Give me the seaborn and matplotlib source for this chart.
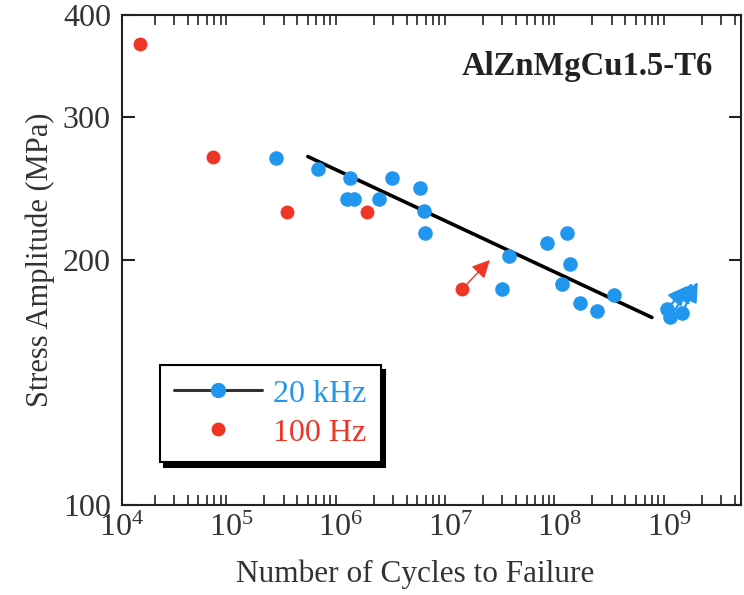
import numpy as np
import pandas as pd
import seaborn as sns
import matplotlib
matplotlib.use("Agg")
import matplotlib.pyplot as plt
from matplotlib.lines import Line2D
from matplotlib.ticker import FixedLocator, NullLocator, LogLocator, LogFormatterMathtext, FixedFormatter

# 20 kHz ultrasonic fatigue tests
blue_cycles = [2.56e5, 6.2e5, 1.21e6, 1.14e6, 1.32e6, 2.23e6, 2.94e6, 5.3e6, 5.75e6, 5.9e6,
               3.44e7, 2.98e7, 7.7e7, 1.17e8, 1.24e8, 1.05e8, 1.54e8, 2.2e8, 3.14e8,
               9.6e8, 1.02e9, 1.31e9]
blue_stress = [267, 259, 252, 238, 238, 238, 252, 245, 230, 216,
               202, 184, 210, 216, 198, 187, 177, 173, 181,
               174, 170, 172]

# 100 Hz conventional fatigue tests
red_cycles = [1.46e4, 6.8e4, 3.2e5, 1.74e6, 1.28e7]
red_stress = [368, 268, 229, 229, 184]

# Basquin fit through the 20 kHz data
fit_cycles = [5.0e5, 7.0e8]
fit_stress = [268, 170]

# Run-out specimens (start -> arrow head)
runout_red = [((1.28e7, 184), (2.31e7, 200))]
runout_blue = [((9.6e8, 174), (1.49e9, 186)),
               ((1.02e9, 170), (1.66e9, 187.5)),
               ((1.31e9, 172), (1.84e9, 188))]

BLUE = "#2196EE"
RED = "#EE3526"
TXT = "#333333"

sns.set_theme(style="white")
plt.rcParams["font.family"] = ["Liberation Serif", "DejaVu Serif"]
plt.rcParams["mathtext.fontset"] = "stix"

fig = plt.figure(figsize=(7.44, 5.95), dpi=100)
ax = fig.add_axes([122 / 744, 1 - 505 / 595, 619 / 744, 490 / 595])

blue_df = pd.DataFrame({"cycles": blue_cycles, "stress": blue_stress})
red_df = pd.DataFrame({"cycles": red_cycles, "stress": red_stress})
fit_df = pd.DataFrame({"cycles": fit_cycles, "stress": fit_stress})

sns.lineplot(data=fit_df, x="cycles", y="stress", color="black", linewidth=2.6, ax=ax, zorder=2)
sns.scatterplot(data=blue_df, x="cycles", y="stress", color=BLUE, s=110, linewidth=0, ax=ax, zorder=3)
sns.scatterplot(data=red_df, x="cycles", y="stress", color=RED, s=100, linewidth=0, ax=ax, zorder=3)

for (x0, y0), (x1, y1) in runout_red:
    ax.annotate("", xy=(x1, y1), xytext=(x0, y0),
                arrowprops=dict(arrowstyle="-|>,head_length=0.9,head_width=0.45",
                                color=RED, lw=1.0, shrinkA=4, shrinkB=0))
for (x0, y0), (x1, y1) in runout_blue:
    ax.annotate("", xy=(x1, y1), xytext=(x0, y0),
                arrowprops=dict(arrowstyle="-|>,head_length=1.0,head_width=0.45",
                                color=BLUE, lw=1.6, shrinkA=2, shrinkB=0))

ax.set_xscale("log")
ax.set_yscale("log")
ax.set_xlim(1e4, 10 ** 9.66)
ax.set_ylim(100, 400)

# x axis: decade labels, inward minor ticks top and bottom
ax.xaxis.set_major_locator(LogLocator(base=10, numticks=20))
ax.xaxis.set_major_formatter(LogFormatterMathtext())
ax.xaxis.set_minor_locator(LogLocator(base=10, subs=np.arange(2, 10), numticks=20))
ax.tick_params(axis="x", which="major", length=0, pad=6, labelsize=23, colors=TXT,
               top=True, bottom=True)
ax.tick_params(axis="x", which="minor", direction="in", length=7, width=1.2,
               top=True, bottom=True, color="#222222")

# y axis
y_ticks = [100, 200, 300, 400]
ax.yaxis.set_major_locator(FixedLocator(y_ticks))
ax.yaxis.set_major_formatter(FixedFormatter([str(t) for t in y_ticks]))
ax.yaxis.set_minor_locator(NullLocator())
ax.tick_params(axis="y", which="major", direction="in", length=9, width=1.5,
               left=True, right=True, labelsize=23, colors=TXT, pad=8)
ax.tick_params(axis="y", which="major", color="#222222")

for sp in ax.spines.values():
    sp.set_color("#222222")
    sp.set_linewidth(1.5)

ax.set_xlabel("Number of Cycles to Failure", fontsize=22.5, color=TXT)
ax.set_ylabel("Stress Amplitude (MPa)", fontsize=22, color=TXT, labelpad=6)
ax.xaxis.set_label_coords(0.473, -0.112)

ax.text(0.955, 0.895, "AlZnMgCu1.5-T6", transform=ax.transAxes, ha="right", va="center",
        fontsize=23.5, fontweight="bold", color="#222222")

handles = [
    Line2D([0], [0], color="#333333", lw=2.2, marker="o", markersize=10,
           markerfacecolor=BLUE, markeredgecolor=BLUE),
    Line2D([0], [0], color="none", marker="o", markersize=9,
           markerfacecolor=RED, markeredgecolor=RED),
]
leg = ax.legend(handles, ["20 kHz", "100 Hz"], loc="lower left",
                bbox_to_anchor=(0.061, 0.088), borderaxespad=0, fontsize=23,
                frameon=True, fancybox=False, handlelength=2.75, handletextpad=0.35,
                borderpad=0.45, labelspacing=0.3,
                shadow={"color": "black", "alpha": 1.0, "ox": 3, "oy": -4})
leg.get_frame().set_edgecolor("black")
leg.get_frame().set_linewidth(1.5)
for txt, c in zip(leg.get_texts(), [BLUE, RED]):
    txt.set_color(c)

fig.savefig("out.png", dpi=100)
